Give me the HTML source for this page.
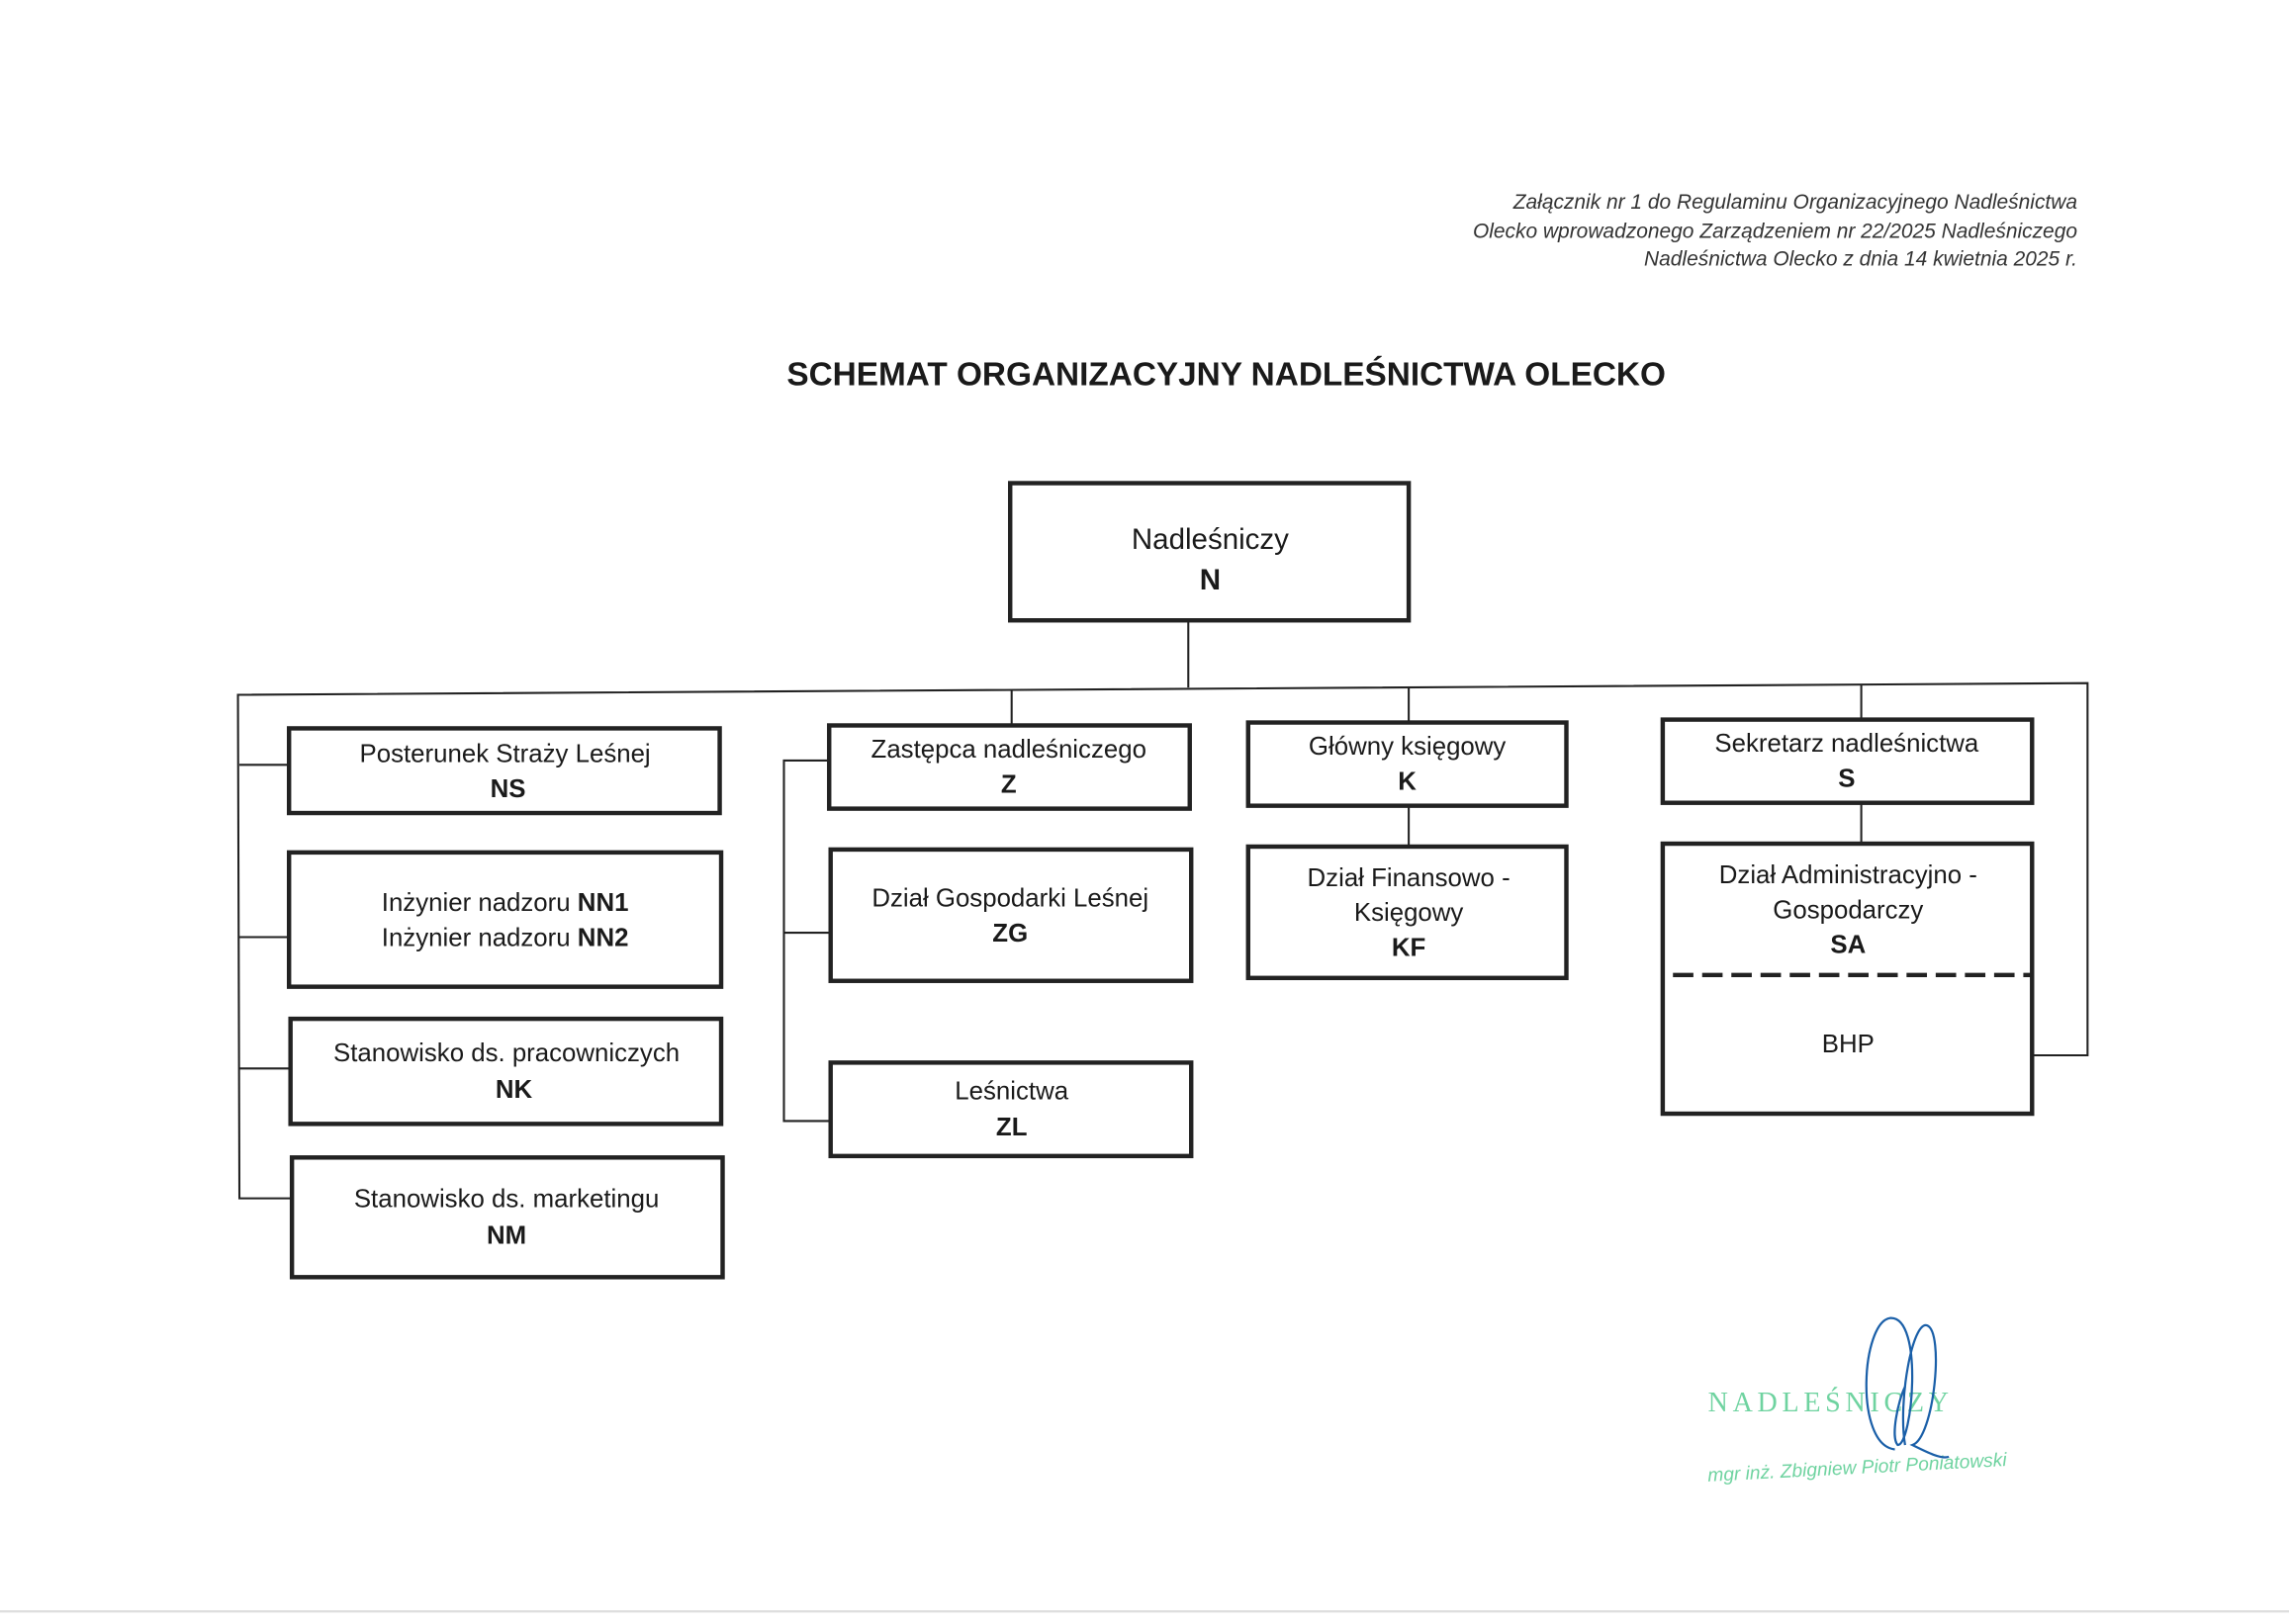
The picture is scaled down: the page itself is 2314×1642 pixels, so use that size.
<!DOCTYPE html>
<html><head><meta charset="utf-8"><style>
html,body{margin:0;padding:0;background:#fff;}
svg{display:block;}
text{font-family:"Liberation Sans",sans-serif;fill:#1a1a1a;}
</style></head><body>
<svg width="2314" height="1642" viewBox="0 0 1568 1112.6" xmlns="http://www.w3.org/2000/svg">
<rect x="0" y="0" width="1568" height="1112.6" fill="#fff"/>
<g font-style="italic" font-size="14.2" text-anchor="end" style="fill:#333">
<text x="1423" y="143" style="fill:#333">Załącznik nr 1 do Regulaminu Organizacyjnego Nadleśnictwa</text>
<text x="1423" y="163" style="fill:#333">Olecko wprowadzonego Zarządzeniem nr 22/2025 Nadleśniczego</text>
<text x="1423" y="182" style="fill:#333">Nadleśnictwa Olecko z dnia 14 kwietnia 2025 r.</text>
</g>
<text x="840" y="264" font-size="22.6" font-weight="bold" text-anchor="middle">SCHEMAT ORGANIZACYJNY NADLEŚNICTWA OLECKO</text>

<g stroke="#222" stroke-width="1.4" fill="none">
<line x1="814" y1="425" x2="814" y2="471"/>
<polyline points="1392,723 1430,723 1430,468 163,476 164,821 200,821"/>
<line x1="164" y1="524" x2="198" y2="524"/>
<line x1="164" y1="642" x2="198" y2="642"/>
<line x1="164" y1="732" x2="199" y2="732"/>
<line x1="693" y1="473" x2="693" y2="496"/>
<polyline points="568,521 537,521 537,768 569,768"/>
<line x1="537" y1="639" x2="569" y2="639"/>
<line x1="965" y1="471" x2="965" y2="494"/>
<line x1="965" y1="552" x2="965" y2="579"/>
<line x1="1275" y1="469" x2="1275" y2="492"/>
<line x1="1275" y1="550" x2="1275" y2="577"/>
</g>
<g stroke="#222" stroke-width="3" fill="#fff">
<rect x="692" y="331" width="273" height="94"/>
<rect x="198" y="499" width="295" height="58"/>
<rect x="198" y="584" width="296" height="92"/>
<rect x="199" y="698" width="295" height="72"/>
<rect x="200" y="793" width="295" height="82"/>
<rect x="568" y="497" width="247" height="57"/>
<rect x="569" y="582" width="247" height="90"/>
<rect x="569" y="728" width="247" height="64"/>
<rect x="855" y="495" width="218" height="57"/>
<rect x="855" y="580" width="218" height="90"/>
<rect x="1139" y="493" width="253" height="57"/>
<rect x="1139" y="578" width="253" height="185"/>
</g>
<line x1="1146" y1="668" x2="1392" y2="668" stroke="#222" stroke-width="3" stroke-dasharray="14,6"/>

<g font-size="17.5" text-anchor="middle">
<text x="829" y="376" font-size="20">Nadleśniczy</text>
<text x="829" y="404" font-size="20" font-weight="bold">N</text>
<text x="346" y="522">Posterunek Straży Leśnej</text>
<text x="348" y="546" font-weight="bold">NS</text>
<text x="346" y="624">Inżynier nadzoru <tspan font-weight="bold">NN1</tspan></text>
<text x="346" y="648">Inżynier nadzoru <tspan font-weight="bold">NN2</tspan></text>
<text x="347" y="727">Stanowisko ds. pracowniczych</text>
<text x="352" y="752" font-weight="bold">NK</text>
<text x="347" y="827">Stanowisko ds. marketingu</text>
<text x="347" y="852" font-weight="bold">NM</text>
<text x="691" y="519">Zastępca nadleśniczego</text>
<text x="691" y="543" font-weight="bold">Z</text>
<text x="692" y="621">Dział Gospodarki Leśnej</text>
<text x="692" y="645" font-weight="bold">ZG</text>
<text x="693" y="753">Leśnictwa</text>
<text x="693" y="778" font-weight="bold">ZL</text>
<text x="964" y="517">Główny księgowy</text>
<text x="964" y="541" font-weight="bold">K</text>
<text x="965" y="607">Dział Finansowo -</text>
<text x="965" y="631">Księgowy</text>
<text x="965" y="655" font-weight="bold">KF</text>
<text x="1265" y="515">Sekretarz nadleśnictwa</text>
<text x="1265" y="539" font-weight="bold">S</text>
<text x="1266" y="605">Dział Administracyjno -</text>
<text x="1266" y="629">Gospodarczy</text>
<text x="1266" y="653" font-weight="bold">SA</text>
<text x="1266" y="721">BHP</text>
</g>

<text x="1170" y="967" font-size="19" style="font-family:'Liberation Serif',serif;fill:#6fd3a0;letter-spacing:3.2px">NADLEŚNICZY</text>
<text x="1170" y="1015" font-size="13" font-style="italic" style="fill:#6fd3a0" transform="rotate(-3 1170 1015)">mgr inż. Zbigniew Piotr Poniatowski</text>
<g fill="none" stroke="#1a5fa8" stroke-width="1.5">
<path d="M1298,993 C1270,990 1275,905 1295,903 C1318,902 1310,990 1300,990 C1295,985 1300,960 1305,950"/>
<path d="M1305,990 C1300,960 1310,905 1320,908 C1332,912 1325,985 1310,990 C1320,995 1330,1000 1335,998"/>
</g>
<line x1="0" y1="1104" x2="1568" y2="1104" stroke="#ddd" stroke-width="1.5"/>
</svg>
</body></html>
